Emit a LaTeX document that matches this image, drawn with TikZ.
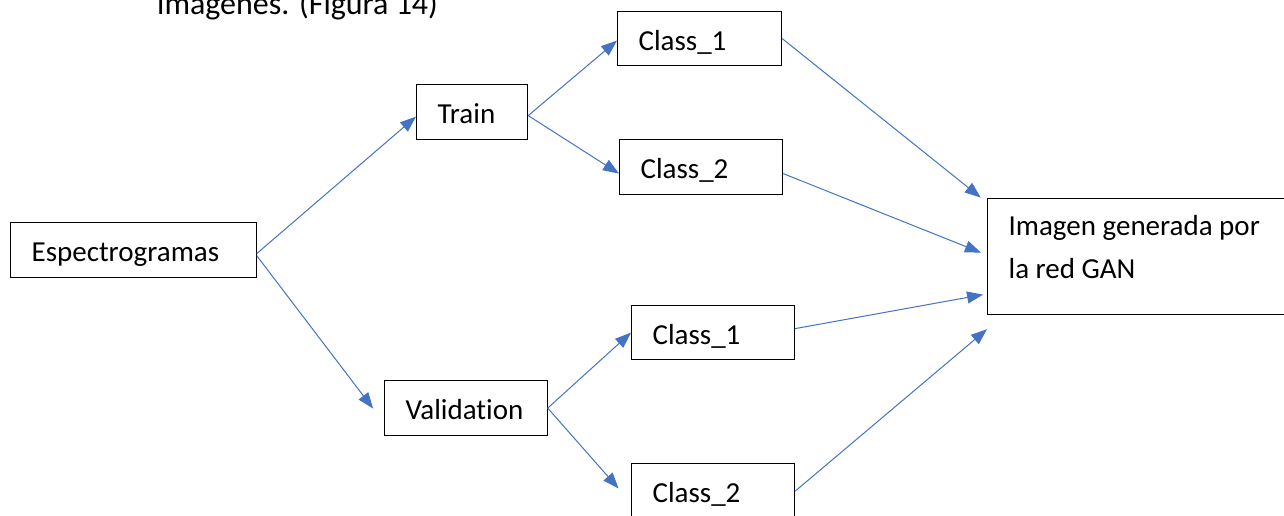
\documentclass[tikz,border=0pt]{standalone}
\usepackage{fontspec}
\setmainfont{Carlito}[Ligatures=NoCommon]
\usetikzlibrary{arrows.meta}
\definecolor{linkblue}{HTML}{4472C4}
\begin{document}
\begin{tikzpicture}[x=1pt,y=-1pt,
  txt/.style={font=\fontsize{29}{43}\selectfont},
  box/.style={txt, draw=black, line width=1.2pt, anchor=north west,
    inner xsep=21pt, inner ysep=0pt, text height=39pt, text depth=16pt, align=flush left},
  link/.style={draw=linkblue, line width=1pt, -{Triangle[length=16pt,width=12pt]}}]
\useasboundingbox (0,0) rectangle (1284,515);
\clip (0,0) rectangle (1284,515);

% running text above the chart
\node[font=\fontsize{32}{38}\selectfont, anchor=base west, inner sep=0pt] (caption)
  at (157,14) {imágenes. (Figura 14)};

% boxes
\node[box, text width=203.5pt] (esp) at (10,222) {Espectrogramas};
\node[box, text width=69pt] (train) at (416,84) {Train};
\node[box, text width=122pt, text depth=15pt] (c1t) at (617,11) {Class\_1};
\node[box, text width=121pt] (c2t) at (619,139) {Class\_2};
\node[box, text width=120.5pt] (val) at (384,380) {Validation};
\node[box, text width=121pt, text depth=15pt] (c1b) at (631,305) {Class\_1};
\node[box, text width=121pt] (c2b) at (631,463) {Class\_2};
\node[box, text width=278pt, text height=37pt, text depth=79pt] (img) at (987,198)
  {Imagen generada por\\la red GAN};

% connectors
\draw[link] ([yshift=-3.5pt]esp.east) -- ([yshift=-4.5pt]train.west);
\draw[link, shorten >=18pt] ([yshift=-5.5pt]esp.east) -- ([yshift=-14.8pt]val.west);
\draw[link] ([yshift=-3.5pt]train.east) -- ([yshift=-2pt]c1t.west);
\draw[link] ([yshift=-3.5pt]train.east) -- ([yshift=-6.5pt]c2t.west);
\draw[link] (val.east) -- (c1b.west);
\draw[link, shorten >=18.8pt] (val.east) -- ([yshift=-11.5pt]c2b.west);
\draw[link, shorten >=8pt] (c1t.east) -- ([yshift=-4.6pt]img.north west);
\draw[link, shorten >=6.5pt] ([yshift=-6.5pt]c2t.east) -- ([yshift=1.6pt]img.west);
\draw[link, shorten >=4pt] ([yshift=4pt]c1b.east) -- ([yshift=-37.3pt]img.west);
\draw[link] (c2b.east) -- ([yshift=-14pt]img.south west);
\end{tikzpicture}
\end{document}
